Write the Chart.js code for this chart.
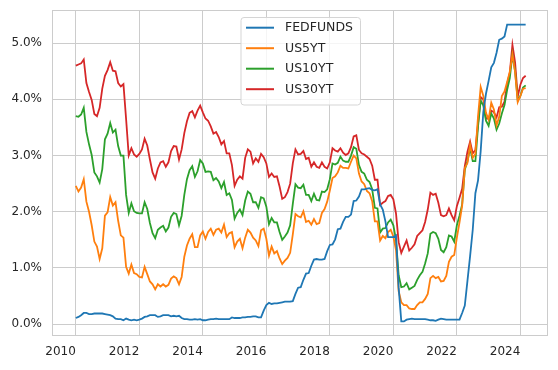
<!DOCTYPE html>
<html>
<head>
<meta charset="utf-8">
<script src="https://cdn.jsdelivr.net/npm/chart.js@4.4.1/dist/chart.umd.min.js"></script>
<style>
  html, body { margin: 0; padding: 0; background: #fff; }
  canvas { display: block; }
</style>
</head>
<body>
<canvas id="chart" width="558" height="370"></canvas>
<script>
// monthly values, Jan 2010 .. Mar 2024 (percent)
const firstYear = 2010;

const fedfunds = [
  0.11, 0.13, 0.16, 0.20, 0.20, 0.18, 0.18, 0.19, 0.19, 0.19, 0.19, 0.18,
  0.17, 0.16, 0.14, 0.10, 0.09, 0.09, 0.07, 0.10, 0.08, 0.07, 0.08, 0.07,
  0.08, 0.10, 0.13, 0.14, 0.16, 0.16, 0.16, 0.13, 0.14, 0.16, 0.16, 0.16,
  0.14, 0.15, 0.14, 0.15, 0.11, 0.09, 0.09, 0.08, 0.08, 0.09, 0.08, 0.09,
  0.07, 0.07, 0.08, 0.09, 0.09, 0.10, 0.09, 0.09, 0.09, 0.09, 0.09, 0.12,
  0.11, 0.11, 0.11, 0.12, 0.12, 0.13, 0.13, 0.14, 0.14, 0.12, 0.12, 0.24,
  0.34, 0.38, 0.36, 0.37, 0.37, 0.38, 0.39, 0.40, 0.40, 0.40, 0.41, 0.54,
  0.65, 0.66, 0.79, 0.90, 0.91, 1.04, 1.15, 1.16, 1.15, 1.15, 1.16, 1.30,
  1.41, 1.42, 1.51, 1.69, 1.70, 1.82, 1.91, 1.91, 1.95, 2.19, 2.20, 2.27,
  2.40, 2.40, 2.41, 2.42, 2.39, 2.38, 2.40, 2.13, 2.04, 1.83, 1.55, 1.55,
  1.55, 1.58, 0.65, 0.05, 0.05, 0.08, 0.09, 0.10, 0.09, 0.09, 0.09, 0.09,
  0.09, 0.08, 0.07, 0.07, 0.06, 0.08, 0.10, 0.09, 0.08, 0.08, 0.08, 0.08,
  0.08, 0.08, 0.20, 0.33, 0.77, 1.21, 1.68, 2.33, 2.56, 3.08, 3.78, 4.10,
  4.33, 4.57, 4.65, 4.83, 5.06, 5.08, 5.12, 5.33, 5.33, 5.33, 5.33, 5.33,
  5.33, 5.33, 5.33
];

const us5yt = [
  2.46, 2.36, 2.43, 2.58, 2.18, 2.00, 1.76, 1.47, 1.38, 1.16, 1.35, 1.93,
  1.99, 2.26, 2.11, 2.17, 1.84, 1.58, 1.54, 1.02, 0.90, 1.06, 0.91, 0.89,
  0.84, 0.83, 1.02, 0.89, 0.76, 0.71, 0.62, 0.71, 0.67, 0.71, 0.67, 0.70,
  0.81, 0.85, 0.82, 0.71, 0.84, 1.20, 1.40, 1.52, 1.60, 1.37, 1.37, 1.58,
  1.65, 1.52, 1.64, 1.70, 1.59, 1.68, 1.70, 1.63, 1.77, 1.55, 1.62, 1.64,
  1.37, 1.47, 1.52, 1.35, 1.54, 1.68, 1.63, 1.54, 1.49, 1.39, 1.67, 1.70,
  1.52, 1.22, 1.38, 1.26, 1.30, 1.17, 1.07, 1.13, 1.18, 1.27, 1.60, 1.96,
  1.92, 1.90, 2.01, 1.82, 1.84, 1.77, 1.87, 1.78, 1.80, 1.98, 2.05, 2.18,
  2.38, 2.60, 2.63, 2.70, 2.82, 2.78, 2.78, 2.77, 2.89, 3.00, 2.95, 2.68,
  2.54, 2.49, 2.37, 2.33, 2.19, 1.83, 1.83, 1.49, 1.57, 1.53, 1.64, 1.68,
  1.56, 1.32, 0.59, 0.39, 0.34, 0.34, 0.28, 0.27, 0.27, 0.34, 0.39, 0.39,
  0.45, 0.54, 0.82, 0.86, 0.82, 0.84, 0.76, 0.77, 0.86, 1.11, 1.20, 1.23,
  1.54, 1.81, 2.11, 2.78, 2.87, 3.19, 2.96, 3.03, 3.70, 4.22, 4.06, 3.76,
  3.64, 3.94, 3.82, 3.54, 3.69, 4.06, 4.14, 4.31, 4.49, 4.80, 4.49, 3.95,
  4.06, 4.19, 4.20
];

const us10yt = [
  3.70, 3.69, 3.73, 3.85, 3.42, 3.20, 3.01, 2.70, 2.63, 2.52, 2.76, 3.29,
  3.39, 3.58, 3.41, 3.46, 3.17, 3.00, 3.00, 2.30, 1.98, 2.15, 2.01, 1.98,
  1.97, 1.97, 2.17, 2.05, 1.80, 1.62, 1.53, 1.68, 1.72, 1.75, 1.65, 1.72,
  1.91, 1.98, 1.96, 1.76, 1.93, 2.30, 2.58, 2.74, 2.81, 2.62, 2.72, 2.92,
  2.86, 2.71, 2.72, 2.71, 2.56, 2.60, 2.54, 2.42, 2.53, 2.30, 2.33, 2.21,
  1.88, 1.98, 2.04, 1.94, 2.20, 2.36, 2.32, 2.17, 2.17, 2.07, 2.26, 2.24,
  2.09, 1.78, 1.89, 1.81, 1.81, 1.64, 1.50, 1.56, 1.63, 1.76, 2.14, 2.49,
  2.43, 2.42, 2.48, 2.30, 2.30, 2.19, 2.32, 2.21, 2.20, 2.36, 2.35, 2.40,
  2.58, 2.86, 2.84, 2.87, 2.98, 2.91, 2.89, 2.89, 3.00, 3.15, 3.12, 2.83,
  2.71, 2.68, 2.57, 2.53, 2.40, 2.07, 2.06, 1.63, 1.70, 1.71, 1.81, 1.86,
  1.76, 1.50, 0.87, 0.66, 0.67, 0.73, 0.62, 0.65, 0.68, 0.79, 0.87, 0.93,
  1.08, 1.26, 1.61, 1.64, 1.62, 1.52, 1.32, 1.28, 1.37, 1.58, 1.56, 1.47,
  1.76, 1.93, 2.13, 2.75, 2.90, 3.14, 2.90, 2.90, 3.52, 3.98, 3.89, 3.62,
  3.53, 3.75, 3.66, 3.46, 3.57, 3.75, 3.90, 4.17, 4.38, 4.80, 4.50, 3.98,
  4.06, 4.21, 4.25
];

const us30yt = [
  4.60, 4.62, 4.64, 4.71, 4.29, 4.13, 3.99, 3.74, 3.70, 3.85, 4.19, 4.42,
  4.52, 4.66, 4.51, 4.50, 4.29, 4.23, 4.27, 3.65, 3.00, 3.13, 3.02, 2.98,
  3.03, 3.11, 3.30, 3.18, 2.93, 2.70, 2.59, 2.77, 2.88, 2.90, 2.80, 2.88,
  3.08, 3.17, 3.16, 2.93, 3.11, 3.40, 3.61, 3.76, 3.79, 3.68, 3.80, 3.89,
  3.77, 3.66, 3.62, 3.52, 3.39, 3.42, 3.33, 3.20, 3.26, 3.04, 3.04, 2.83,
  2.46, 2.57, 2.63, 2.59, 2.96, 3.11, 3.07, 2.86, 2.95, 2.89, 3.03, 2.97,
  2.86, 2.62, 2.68, 2.62, 2.63, 2.45, 2.23, 2.26, 2.35, 2.50, 2.86, 3.11,
  3.02, 3.03, 3.08, 2.94, 2.96, 2.80, 2.88, 2.80, 2.78, 2.88, 2.80, 2.77,
  2.88, 3.13, 3.09, 3.07, 3.13, 3.05, 3.01, 3.04, 3.15, 3.34, 3.36, 3.10,
  3.04, 3.02, 2.98, 2.94, 2.82, 2.57, 2.57, 2.12, 2.16, 2.19, 2.28, 2.30,
  2.22, 1.97, 1.46, 1.27, 1.38, 1.49, 1.31, 1.36, 1.42, 1.57, 1.62, 1.67,
  1.82, 2.04, 2.34, 2.30, 2.32, 2.16, 1.94, 1.92, 1.94, 2.06, 1.94, 1.85,
  2.10, 2.25, 2.41, 2.81, 3.07, 3.25, 3.04, 3.10, 3.57, 4.04, 4.00, 3.66,
  3.66, 3.80, 3.77, 3.68, 3.86, 3.87, 3.96, 4.28, 4.47, 4.97, 4.66, 4.05,
  4.26, 4.38, 4.42
];

const seriesNames = ['FEDFUNDS', 'US5YT', 'US10YT', 'US30YT'];
const seriesColors = ['#1f77b4', '#ff7f0e', '#2ca02c', '#d62728'];

// decimal year of each month
const months = fedfunds.map((_, i) => firstYear + i / 12);

function points(values) {
  return values.map((v, i) => ({ x: months[i], y: v }));
}

const fontFamily = '"DejaVu Sans", sans-serif';
const textColor = '#262626';
const gridColor = '#cccccc';

// axes frame, all four sides
const framePlugin = {
  id: 'frame',
  beforeDatasetsDraw(chart) {
    const { ctx, chartArea: a } = chart;
    ctx.save();
    ctx.strokeStyle = gridColor;
    ctx.lineWidth = 1;
    ctx.strokeRect(a.left + 0.5, a.top + 0.5, a.right - a.left - 1, a.bottom - a.top - 1);
    ctx.restore();
  }
};

// boxed legend inside the plot, like matplotlib's
const boxLegend = {
  id: 'boxLegend',
  afterDraw(chart) {
    const ctx = chart.ctx;
    const x = 241, y = 17.5, w = 119.5, h = 87.5;
    ctx.save();
    ctx.beginPath();
    ctx.roundRect(x, y, w, h, 3);
    ctx.fillStyle = 'rgba(255,255,255,0.8)';
    ctx.fill();
    ctx.strokeStyle = '#d5d5d5';
    ctx.lineWidth = 1;
    ctx.stroke();
    ctx.font = '12.5px ' + fontFamily;
    ctx.textBaseline = 'middle';
    chart.data.datasets.forEach((ds, i) => {
      const ry = 27.7 + i * 20.5;
      ctx.strokeStyle = ds.borderColor;
      ctx.lineWidth = 2;
      ctx.beginPath();
      ctx.moveTo(246, ry);
      ctx.lineTo(274, ry);
      ctx.stroke();
      ctx.fillStyle = textColor;
      ctx.fillText(ds.label, 285, ry + 0.5);
    });
    ctx.restore();
  }
};

const ctx = document.getElementById('chart').getContext('2d');
const chart = new Chart(ctx, {
  type: 'line',
  data: {
    datasets: [fedfunds, us5yt, us10yt, us30yt].map((vals, i) => ({
      label: seriesNames[i],
      data: points(vals),
      borderColor: seriesColors[i],
      backgroundColor: seriesColors[i],
      borderWidth: 1.8,
      pointRadius: 0,
      tension: 0,
      fill: false
    }))
  },
  options: {
    responsive: false,
    animation: false,
    devicePixelRatio: 1,
    layout: { padding: { top: 10, right: 10, left: 0, bottom: 0 } },
    plugins: {
      legend: { display: false },
      tooltip: { enabled: false }
    },
    scales: {
      x: {
        type: 'linear',
        min: 2009.25,
        max: 2024.87,
        grid: { color: gridColor, drawTicks: false },
        border: { display: false },
        ticks: {
          stepSize: 2,
          includeBounds: false,
          align: 'end',
          padding: 9,
          color: textColor,
          font: { family: fontFamily, size: 12 },
          callback: v => String(v)
        },
        afterFit: s => {
          s.height = 34;
          s.paddingLeft = 0;
          s.paddingRight = 0;
        }
      },
      y: {
        min: -0.21,
        max: 5.59,
        grid: { color: gridColor, drawTicks: false },
        border: { display: false },
        ticks: {
          stepSize: 1,
          includeBounds: false,
          padding: 10,
          color: textColor,
          font: { family: fontFamily, size: 12 },
          callback: v => v.toFixed(1) + '%'
        },
        // plot box is fixed: 52px label gutter, no extra label padding
        afterFit: s => {
          s.width = 52;
          s.paddingTop = 0;
          s.paddingBottom = 0;
        }
      }
    }
  },
  plugins: [framePlugin, boxLegend]
});
</script>
</body>
</html>
